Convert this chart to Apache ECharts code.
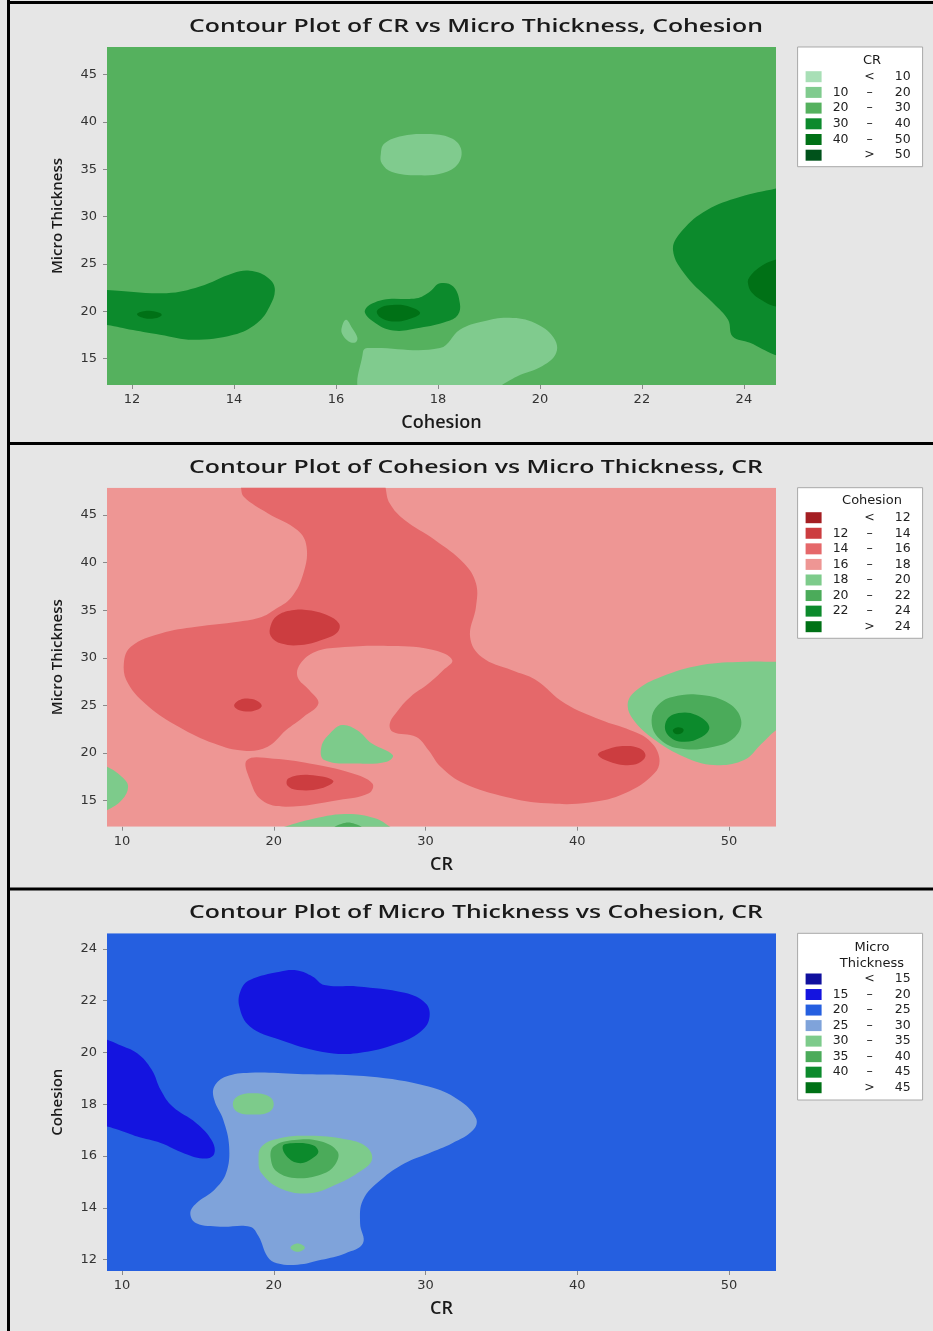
<!DOCTYPE html>
<html><head><meta charset="utf-8">
<script src="https://cdn.jsdelivr.net/npm/echarts@6/dist/echarts.min.js"></script>
<style>html,body{margin:0;padding:0;background:#e6e6e6}#c{width:933px;height:1331px}</style>
</head><body><div id="c"></div>
<script>
// ---------------- DATA ----------------
const titles = ['Contour Plot of CR vs Micro Thickness, Cohesion','Contour Plot of Cohesion vs Micro Thickness, CR','Contour Plot of Micro Thickness vs Cohesion, CR'];
const xNames = ['Cohesion','CR','CR'];
const yNames = ['Micro Thickness','Micro Thickness','Cohesion'];
const legendTitles = ['CR','Cohesion','Micro\nThickness'];

const p1XRange = [11.51, 24.63], p1YRange = [12.2, 47.9];
const p2XRange = [9.01, 53.1],   p2YRange = [12.27, 47.87];
const p3XRange = [9.01, 53.1],   p3YRange = [11.56, 24.6];

const p1XTicks = [12,14,16,18,20,22,24];
const p1YTicks = [15,20,25,30,35,40,45];
const p2XTicks = [10,20,30,40,50];
const p2YTicks = [15,20,25,30,35,40,45];
const p3XTicks = [10,20,30,40,50];
const p3YTicks = [12,14,16,18,20,22,24];

const p1Levels = ['< 10','10 – 20','20 – 30','30 – 40','40 – 50','> 50'];
const p2Levels = ['< 12','12 – 14','14 – 16','16 – 18','18 – 20','20 – 22','22 – 24','> 24'];
const p3Levels = ['< 15','15 – 20','20 – 25','25 – 30','30 – 35','35 – 40','40 – 45','> 45'];

// Panel 1 contour regions  [Cohesion, Micro Thickness]
const crTop10 = [[16.88,36.6],[16.95,37.7],[17.3,38.5],[17.8,38.7],[18.25,38.3],[18.45,37.2],[18.4,35.6],[18.1,34.6],[17.6,34.35],[17.1,34.7],[16.9,35.6]];
const crDrop10 = [[16.2,19.1],[16.32,18.2],[16.42,17.2],[16.38,16.7],[16.25,16.8],[16.12,17.6],[16.12,18.4]];
const crBottom10 = [[16.53,11.5],[16.53,15.7],[16.62,16.1],[18.04,16.1],[18.43,18.03],[18.88,18.9],[19.4,19.3],[19.9,18.75],[20.27,17.2],[20.32,15.6],[20.05,14.2],[19.55,13.1],[19.2,12.0],[19.1,11.5]];
const crLeft30 = [[11.2,22.25],[11.51,22.24],[12.68,21.9],[13.33,22.6],[13.98,24.0],[14.31,24.27],[14.64,23.64],[14.8,22.42],[14.7,20.48],[14.45,18.73],[13.99,17.5],[13.2,16.97],[12.55,17.5],[12.02,18.0],[11.51,18.55],[11.2,18.6]];
const crMid30 = [[16.57,20.13],[16.93,21.2],[17.58,21.36],[17.84,22.06],[18.04,22.94],[18.3,22.6],[18.43,20.84],[18.39,19.6],[18.17,18.9],[17.65,18.24],[17.12,17.95],[16.73,18.9]];
const crRight30 = [[24.9,33.3],[24.63,32.96],[23.92,32.07],[23.27,30.67],[22.8,28.56],[22.61,26.45],[22.88,23.64],[23.4,20.84],[23.69,19.08],[23.78,17.32],[24.12,16.65],[24.6,15.4],[24.9,15.1]];
const crLeft40 = [[12.1,19.65],[12.2,19.95],[12.38,20.02],[12.55,19.8],[12.58,19.55],[12.45,19.25],[12.25,19.25]];
const crMid40 = [[16.8,19.95],[16.9,20.45],[17.1,20.66],[17.4,20.55],[17.65,19.8],[17.4,19.1],[17.1,18.92],[16.88,19.3]];
const crRight40 = [[24.9,25.5],[24.6,25.4],[24.3,24.6],[24.1,23.5],[24.08,22.94],[24.15,22.0],[24.4,21.0],[24.63,20.48],[24.9,20.4]];

// Panel 2 contour regions  [CR, Micro Thickness]
const coh14Main = [[17.84,48.5],[17.84,47.87],[18.04,46.9],[19.6,45.2],[21.57,43.4],[22.16,41.7],[21.96,38.9],[21.18,36.4],[20.0,35.0],[19.2,34.3],[17.65,33.8],[14.9,33.27],[12.55,32.57],[10.6,31.2],[10.12,29.4],[10.4,27.3],[11.76,24.87],[13.73,22.77],[16.08,21.0],[18.04,20.25],[19.6,20.67],[20.8,22.4],[21.96,23.8],[22.94,25.2],[22.35,26.6],[21.57,28.0],[21.76,29.4],[22.75,30.65],[24.3,31.1],[27.84,31.24],[30.59,30.8],[31.76,29.77],[31.18,28.72],[30.2,27.3],[29.0,25.9],[28.2,24.5],[27.65,23.1],[27.84,22.25],[29.4,21.7],[30.2,20.3],[31.0,18.57],[32.55,16.8],[35.3,15.4],[38.0,14.72],[40.8,14.8],[43.14,15.77],[45.1,17.9],[45.4,19.6],[44.7,21.4],[43.5,22.4],[41.57,23.47],[39.2,25.2],[37.25,27.7],[35.7,28.7],[33.7,30.1],[32.94,32.2],[33.33,35.4],[33.33,37.8],[32.55,39.9],[30.6,42.4],[28.6,44.5],[27.65,46.2],[27.37,47.87],[27.37,48.5]];
const coh14Low = [[18.24,19.27],[20.0,19.4],[22.35,18.9],[25.1,17.9],[26.5,16.8],[26.27,15.77],[24.3,15.07],[20.8,14.37],[19.2,15.07],[18.43,17.2]];
const coh12A = [[19.8,33.4],[20.2,34.4],[21.2,35.0],[22.3,35.0],[23.5,34.5],[24.3,33.6],[24.2,32.7],[23.2,31.9],[21.8,31.35],[20.5,31.5],[19.8,32.3]];
const coh12B = [[17.4,25.1],[17.8,25.6],[18.4,25.7],[19.0,25.4],[19.2,24.9],[18.7,24.45],[18.0,24.4],[17.5,24.7]];
const coh12C = [[41.37,19.8],[42.0,20.4],[43.14,20.74],[44.1,20.5],[44.5,19.8],[44.2,19.1],[43.5,18.75],[42.5,18.9]];
const coh12D = [[20.98,17.35],[22.35,17.7],[23.92,17.1],[23.14,16.3],[21.57,16.12],[20.9,16.6]];
const coh18Mid = [[23.73,22.1],[24.5,22.95],[25.5,22.4],[26.47,21.0],[27.84,19.8],[27.45,19.1],[25.5,18.9],[23.33,19.27],[23.14,20.67]];
const coh18Left = [[8.5,18.7],[9.02,18.57],[10.0,17.5],[10.4,16.5],[10.0,15.1],[9.0,14.0],[8.5,13.9]];
const coh18Bottom = [[20.0,11.8],[20.4,12.1],[22.35,13.0],[24.7,13.6],[26.67,13.15],[27.84,12.1],[28.2,11.8]];
const coh18Right = [[53.5,29.6],[53.1,29.6],[51.0,29.6],[48.2,29.25],[45.5,28.0],[43.9,26.6],[43.33,25.2],[43.7,23.5],[45.1,21.4],[47.06,19.6],[49.0,18.75],[51.0,19.27],[52.16,21.0],[53.1,22.4],[53.5,22.6]];
const coh20Bottom = [[23.8,11.9],[24.9,12.7],[26.0,11.9]];
const coh20Right = [[46.27,25.9],[48.2,26.1],[50.0,25.2],[50.8,23.47],[50.4,21.7],[49.0,20.67],[46.67,20.5],[45.3,21.7],[44.9,23.47],[45.3,25.0]];
const coh22Right = [[46.67,24.2],[47.84,24.0],[48.7,22.77],[48.2,21.7],[46.86,21.2],[45.9,22.07],[45.9,23.47]];
const coh24Right = [[46.3,22.4],[46.6,22.7],[47.0,22.5],[46.9,22.1],[46.5,22.0]];

// Panel 3 contour regions  [CR, Cohesion]
const mt15Top = [[17.84,22.42],[18.43,22.8],[20.4,23.12],[21.57,23.16],[22.55,22.93],[23.33,22.6],[25.5,22.55],[28.63,22.3],[30.0,21.9],[30.27,21.39],[29.8,20.87],[28.24,20.36],[25.5,19.97],[23.14,20.03],[20.4,20.49],[18.43,21.0],[17.73,21.77]];
const mt10Top = [[22.1,21.06],[22.16,21.39],[23.14,21.58],[24.5,21.62],[25.69,21.39],[26.08,21.0],[25.5,20.68],[24.1,20.59],[22.75,20.74]];
const mt15Left = [[8.5,20.55],[9.02,20.49],[9.8,20.3],[11.0,19.97],[11.96,19.33],[12.55,18.55],[13.33,17.91],[14.9,17.27],[15.9,16.62],[16.08,16.1],[15.5,15.9],[14.1,16.1],[12.55,16.5],[11.0,16.75],[9.8,17.0],[9.02,17.14],[8.5,17.2]];
const mt25Main = [[16.08,18.68],[16.86,19.07],[18.43,19.22],[21.57,19.17],[26.27,19.07],[30.2,18.68],[32.16,18.17],[33.33,17.46],[33.14,17.0],[31.76,16.49],[30.2,16.1],[28.63,15.72],[27.06,15.08],[25.88,14.3],[25.69,13.4],[25.88,12.63],[24.7,12.24],[23.14,11.99],[21.57,11.8],[20.2,11.86],[19.6,12.1],[19.0,12.9],[18.43,13.27],[16.47,13.27],[14.9,13.4],[14.5,13.79],[14.9,14.18],[16.08,14.69],[16.86,15.34],[17.06,16.37],[16.67,17.4],[16.08,18.17]];
const mt30Dot = [[17.3,18.0],[17.6,18.3],[18.63,18.42],[19.7,18.3],[20.0,18.0],[19.7,17.7],[18.63,17.6],[17.6,17.7]];
const mt30Main = [[19.0,15.85],[19.2,16.37],[20.4,16.69],[22.35,16.78],[24.7,16.65],[26.08,16.37],[26.47,15.85],[25.5,15.33],[24.3,14.95],[22.35,14.56],[20.4,14.76],[19.2,15.33]];
const mt30Small = [[21.1,12.46],[21.57,12.62],[22.05,12.46],[21.57,12.3]];
const mt35Main = [[19.8,15.92],[20.0,16.37],[21.37,16.62],[23.14,16.56],[24.2,16.17],[24.1,15.72],[23.33,15.33],[21.57,15.14],[20.2,15.4]];
const mt40Main = [[20.59,16.37],[21.18,16.49],[22.55,16.43],[22.94,16.17],[22.55,15.91],[21.76,15.72],[20.98,15.91]];

// regions grouped by level index
const p1Regions = [[], [crTop10, crDrop10, crBottom10], [], [crLeft30, crMid30, crRight30], [crLeft40, crMid40, crRight40], []];
const p2Regions = [[], [coh12A, coh12B, coh12C, coh12D], [coh14Main, coh14Low], [], [coh18Mid, coh18Left, coh18Bottom, coh18Right], [coh20Bottom, coh20Right], [coh22Right], [coh24Right]];
const p3Regions = [[], [mt15Top, mt15Left], [], [mt25Main], [mt30Dot, mt30Main, mt30Small], [mt35Main], [mt40Main], []];

// ---------------- STYLE / LAYOUT ----------------
const p1Colors = ['#a8dfb6','#80cb8e','#55b15e','#0c8a2c','#007116','#00521b'];
const p2Colors = ['#a41e22','#cc3d40','#e5686a','#ee9694','#7dcb8b','#4bab5a','#0c8a2c','#007116'];
const p3Colors = ['#10109e','#1414e0','#255fe0','#7fa3da','#7dcb8b','#4bab5a','#0c8a2c','#007116'];
const FONT = 'DejaVu Sans';
const TFONT = 'Open Sans';
const TXT = '#1a1a1a';
const gridTops = [47, 487.7, 933.3];
const gridHeights = [338, 339, 337.7];
const titleY = [27, 468, 913];
const legendTitleY = [60.7, 501, 955.5];
const legendPad = [[22.7,12,4.5,8],[23,12,4.6,8],[38.7,12,5.3,8]];
const legendGap = [1.7, 1.57, 1.53];

const panels = [
  {x:p1XRange, y:p1YRange, xt:p1XTicks, yt:p1YTicks, levels:p1Levels, colors:p1Colors, regions:p1Regions, base:2, order:[2,1,0,3,4,5]},
  {x:p2XRange, y:p2YRange, xt:p2XTicks, yt:p2YTicks, levels:p2Levels, colors:p2Colors, regions:p2Regions, base:3, order:[3,2,1,0,4,5,6,7]},
  {x:p3XRange, y:p3YRange, xt:p3XTicks, yt:p3YTicks, levels:p3Levels, colors:p3Colors, regions:p3Regions, base:2, order:[2,1,0,3,4,5,6,7]}
];

const grids = [], xAxes = [], yAxes = [], series = [], legends = [], graphics = [];

panels.forEach((p, pi) => {
  grids.push({left:107, width:669, top:gridTops[pi], height:gridHeights[pi], containLabel:false});
  xAxes.push({
    gridIndex:pi, type:'value', min:p.x[0], max:p.x[1],
    name:xNames[pi], nameLocation:'middle', nameGap:29,
    nameTextStyle:{fontFamily:TFONT, fontSize:18, fontWeight:600, color:TXT},
    axisLine:{show:false}, splitLine:{show:false},
    axisTick:{show:true, length:4, lineStyle:{color:'#8a8a8a'}, customValues:p.xt},
    axisLabel:{customValues:p.xt, margin:8, fontFamily:FONT, fontSize:13, color:'#333'}
  });
  yAxes.push({
    gridIndex:pi, type:'value', min:p.y[0], max:p.y[1],
    name:yNames[pi], nameLocation:'middle', nameGap:42,
    nameTextStyle:{fontFamily:TFONT, fontSize:15, fontWeight:600, color:TXT},
    axisLine:{show:false}, splitLine:{show:false},
    axisTick:{show:true, length:4, lineStyle:{color:'#8a8a8a'}, customValues:p.yt},
    axisLabel:{customValues:p.yt, margin:10, fontFamily:FONT, fontSize:13, color:'#333'}
  });
  p.order.forEach(lv => {
    const name = p.levels[lv], color = p.colors[lv];
    if (lv === p.base) {
      series.push({
        type:'custom', name, xAxisIndex:pi, yAxisIndex:pi, clip:true, silent:true,
        itemStyle:{color}, data:[[p.x[0], p.y[0], p.x[1], p.y[1]]],
        encode:{x:[0,2], y:[1,3]},
        renderItem:(params, api) => {
          const a = api.coord([api.value(0), api.value(3)]);
          const b = api.coord([api.value(2), api.value(1)]);
          return {type:'rect', shape:{x:a[0], y:a[1], width:b[0]-a[0], height:b[1]-a[1]}, style:{fill:color}};
        }
      });
    } else {
      const polys = p.regions[lv];
      series.push({
        type:'custom', name, xAxisIndex:pi, yAxisIndex:pi, clip:true, silent:true,
        itemStyle:{color}, data:polys.map(pg => pg[0]),
        renderItem:(params, api) => {
          const pg = polys[params.dataIndex];
          return {type:'polygon', shape:{points:pg.map(pt => api.coord(pt)), smooth:0.4}, style:{fill:color}};
        }
      });
    }
  });
  const rs = {fontFamily:FONT, fontSize:12.5, color:'#222', lineHeight:14};
  legends.push({
    orient:'vertical', left:797.6, top:gridTops[pi],
    backgroundColor:'#ffffff', borderColor:'#a8a8a8', borderWidth:1, borderRadius:0,
    padding:legendPad[pi], itemWidth:16, itemHeight:11, itemGap:legendGap[pi],
    icon:'rect', selectedMode:false,
    data:p.levels.map((n, i) => ({name:n, itemStyle:{color:p.colors[i], borderWidth:0}})),
    textStyle:{...rs, rich:{a:{...rs, width:28, align:'right'}, b:{...rs, width:30, align:'center'}, c:{...rs, width:26, align:'right'}}},
    formatter:name => {
      let a = '\u00a0', b, c;
      if (name[0] === '<' || name[0] === '>') { b = name[0]; c = name.slice(1).trim(); }
      else { const s = name.split(' – '); a = s[0]; b = '–'; c = s[1]; }
      return '{a|' + a + '}{b|' + b + '}{c|' + c + '}';
    }
  });
  graphics.push({type:'text', x:476, y:titleY[pi], scaleX:1.34, z:100,
    style:{text:titles[pi], fontFamily:TFONT, fontSize:18.5, fontWeight:600, fill:TXT, align:'center', verticalAlign:'middle'}});
  graphics.push({type:'text', x:872, y:legendTitleY[pi], z:100,
    style:{text:legendTitles[pi], fontFamily:FONT, fontSize:13, lineHeight:15.6, fill:TXT, align:'center', verticalAlign:'middle'}});
});

// frame lines
graphics.push({type:'line', z:100, shape:{x1:8.5, y1:0, x2:8.5, y2:1331}, style:{stroke:'#000', lineWidth:3}});
[2.5, 443.5, 889].forEach(yy => graphics.push({type:'line', z:100, shape:{x1:7, y1:yy, x2:933, y2:yy}, style:{stroke:'#000', lineWidth:3}}));

const chart = echarts.init(document.getElementById('c'), null, {renderer:'canvas'});
chart.setOption({
  backgroundColor:'#e6e6e6', animation:false,
  grid:grids, xAxis:xAxes, yAxis:yAxes, series, legend:legends, graphic:graphics
});
</script></body></html>
